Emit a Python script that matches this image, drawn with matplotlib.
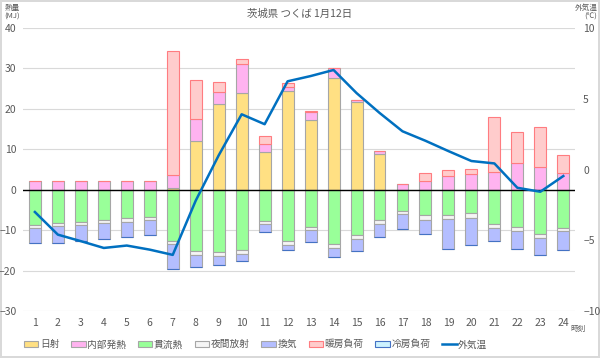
import numpy as np
import matplotlib.pyplot as plt

plt.rcParams['font.family'] = ['Noto Sans CJK JP', 'DejaVu Sans']

hours = list(range(1, 25))

# 熱量 (MJ)
solar = [0, 0, 0, 0, 0, 0, 0.4, 12.1, 21.2, 23.8, 9.4, 24.3,
         17.3, 27.6, 21.6, 8.8, 0, 0, 0, 0, 0, 0, 0, 0]
internal = [2.1, 2.1, 2.1, 2.1, 2.1, 2.1, 3.3, 5.4, 2.9, 7.2, 1.9, 1.2,
            1.8, 2.4, 0.7, 0.7, 1.4, 2.2, 3.5, 4.0, 4.5, 6.5, 5.5, 4.1]
heating = [0, 0, 0, 0, 0, 0, 30.7, 9.7, 2.6, 1.2, 2.0, 0.9,
           0.3, 0, 0, 0, 0, 1.9, 1.5, 1.2, 13.4, 7.7, 10.1, 4.5]
conduction = [-8.7, -8.2, -7.9, -7.45, -7.0, -6.7, -12.6, -15.1, -15.4, -14.8, -7.7, -12.7,
              -9.1, -13.4, -11.3, -7.6, -5.3, -6.3, -6.2, -5.7, -8.4, -9.2, -10.9, -9.4]
night_rad = [-0.8, -0.8, -0.7, -0.75, -0.9, -0.8, -0.8, -1.0, -1.0, -1.0, -0.7, -0.9,
             -0.9, -0.9, -1.0, -0.9, -0.8, -1.1, -1.0, -1.2, -1.0, -0.9, -1.0, -0.9]
ventilation = [-3.7, -4.2, -4.1, -4.1, -3.9, -3.8, -6.1, -2.9, -2.1, -1.7, -2.1, -1.4,
               -3.0, -2.3, -2.8, -3.1, -3.6, -3.5, -7.4, -6.7, -3.3, -4.6, -4.3, -4.5]
cooling = [0] * 24

# 外気温 (℃)
temp = [-3.0, -4.6, -5.06, -5.54, -5.37, -5.66, -6.03, -2.2, 1.0, 3.9, 3.2, 6.23,
        6.6, 7.03, 5.4, 4.0, 2.7, 2.03, 1.3, 0.6, 0.43, -1.29, -1.57, -0.46]

pos_series = [("日射", solar, "#FFE083", "#A6A6A6"),
              ("内部発熱", internal, "#FFB3F0", "#A6A6A6"),
              ("暖房負荷", heating, "#FFCCCC", "#FF7C80")]
neg_series = [("貫流熱", conduction, "#99FF99", "#A6A6A6"),
              ("夜間放射", night_rad, "#F5F5F5", "#A6A6A6"),
              ("換気", ventilation, "#B4BEFF", "#A6A6A6"),
              ("冷房負荷", cooling, "#CCF2FF", "#4472C4")]

gray = "#595959"

fig = plt.figure(figsize=(6, 3.58), dpi=100)
fig.patch.set_edgecolor("#D9D9D9")
fig.patch.set_linewidth(1.5)
ax = fig.add_axes([0.039, 0.131, 0.919, 0.791])

width = 0.52
handles = {}
bottom = np.zeros(24)
for name, vals, fc, ec in pos_series:
    h = ax.bar(hours, vals, width, bottom=bottom, color=fc, edgecolor=ec, linewidth=0.8, zorder=2)
    handles[name] = h
    bottom += np.array(vals)
bottom = np.zeros(24)
for name, vals, fc, ec in neg_series:
    h = ax.bar(hours, vals, width, bottom=bottom, color=fc, edgecolor=ec, linewidth=0.8, zorder=2)
    handles[name] = h
    bottom += np.array(vals)

ax.axhline(0, color="black", linewidth=1.0, zorder=3)
ax.set_xlim(0.5, 24.5)
ax.set_ylim(-30, 40)
ax.set_yticks(range(-30, 41, 10))
ax.set_xticks(hours)
ax.grid(axis="y", color="#D9D9D9", linewidth=0.8, zorder=0)
ax.set_axisbelow(True)
for s in ax.spines.values():
    s.set_visible(False)
ax.tick_params(length=0, labelsize=7.5, colors=gray, pad=5)

ax2 = ax.twinx()
line, = ax2.plot(hours, temp, color="#0070C0", linewidth=1.8, zorder=4)
ax2.set_ylim(-10, 10)
ax2.set_yticks([-10, -5, 0, 5, 10])
for s in ax2.spines.values():
    s.set_visible(False)
ax2.tick_params(length=0, labelsize=7.5, colors=gray, pad=6)

fig.text(0.5, 0.962, "茨城県 つくば 1月12日", ha="center", va="center", fontsize=7.5, color=gray)
fig.text(0.007, 0.99, "熱量\n(MJ)", ha="left", va="top", fontsize=5.5, color=gray, linespacing=1.25)
fig.text(0.996, 0.99, "外気温\n(℃)", ha="right", va="top", fontsize=5.5, color=gray, linespacing=1.25)
fig.text(0.95, 0.08, "時刻", ha="left", va="center", fontsize=5.5, color=gray)

order = ["日射", "内部発熱", "貫流熱", "夜間放射", "換気", "暖房負荷", "冷房負荷"]
leg = fig.legend([handles[n] for n in order] + [line], order + ["外気温"],
                 loc="center left", bbox_to_anchor=(0.025, 0.038), ncol=8, frameon=False,
                 fontsize=7, handlelength=1.5, handleheight=0.7, handletextpad=0.15,
                 columnspacing=1.2, labelcolor=gray)

fig.savefig("out.png", dpi=100)
